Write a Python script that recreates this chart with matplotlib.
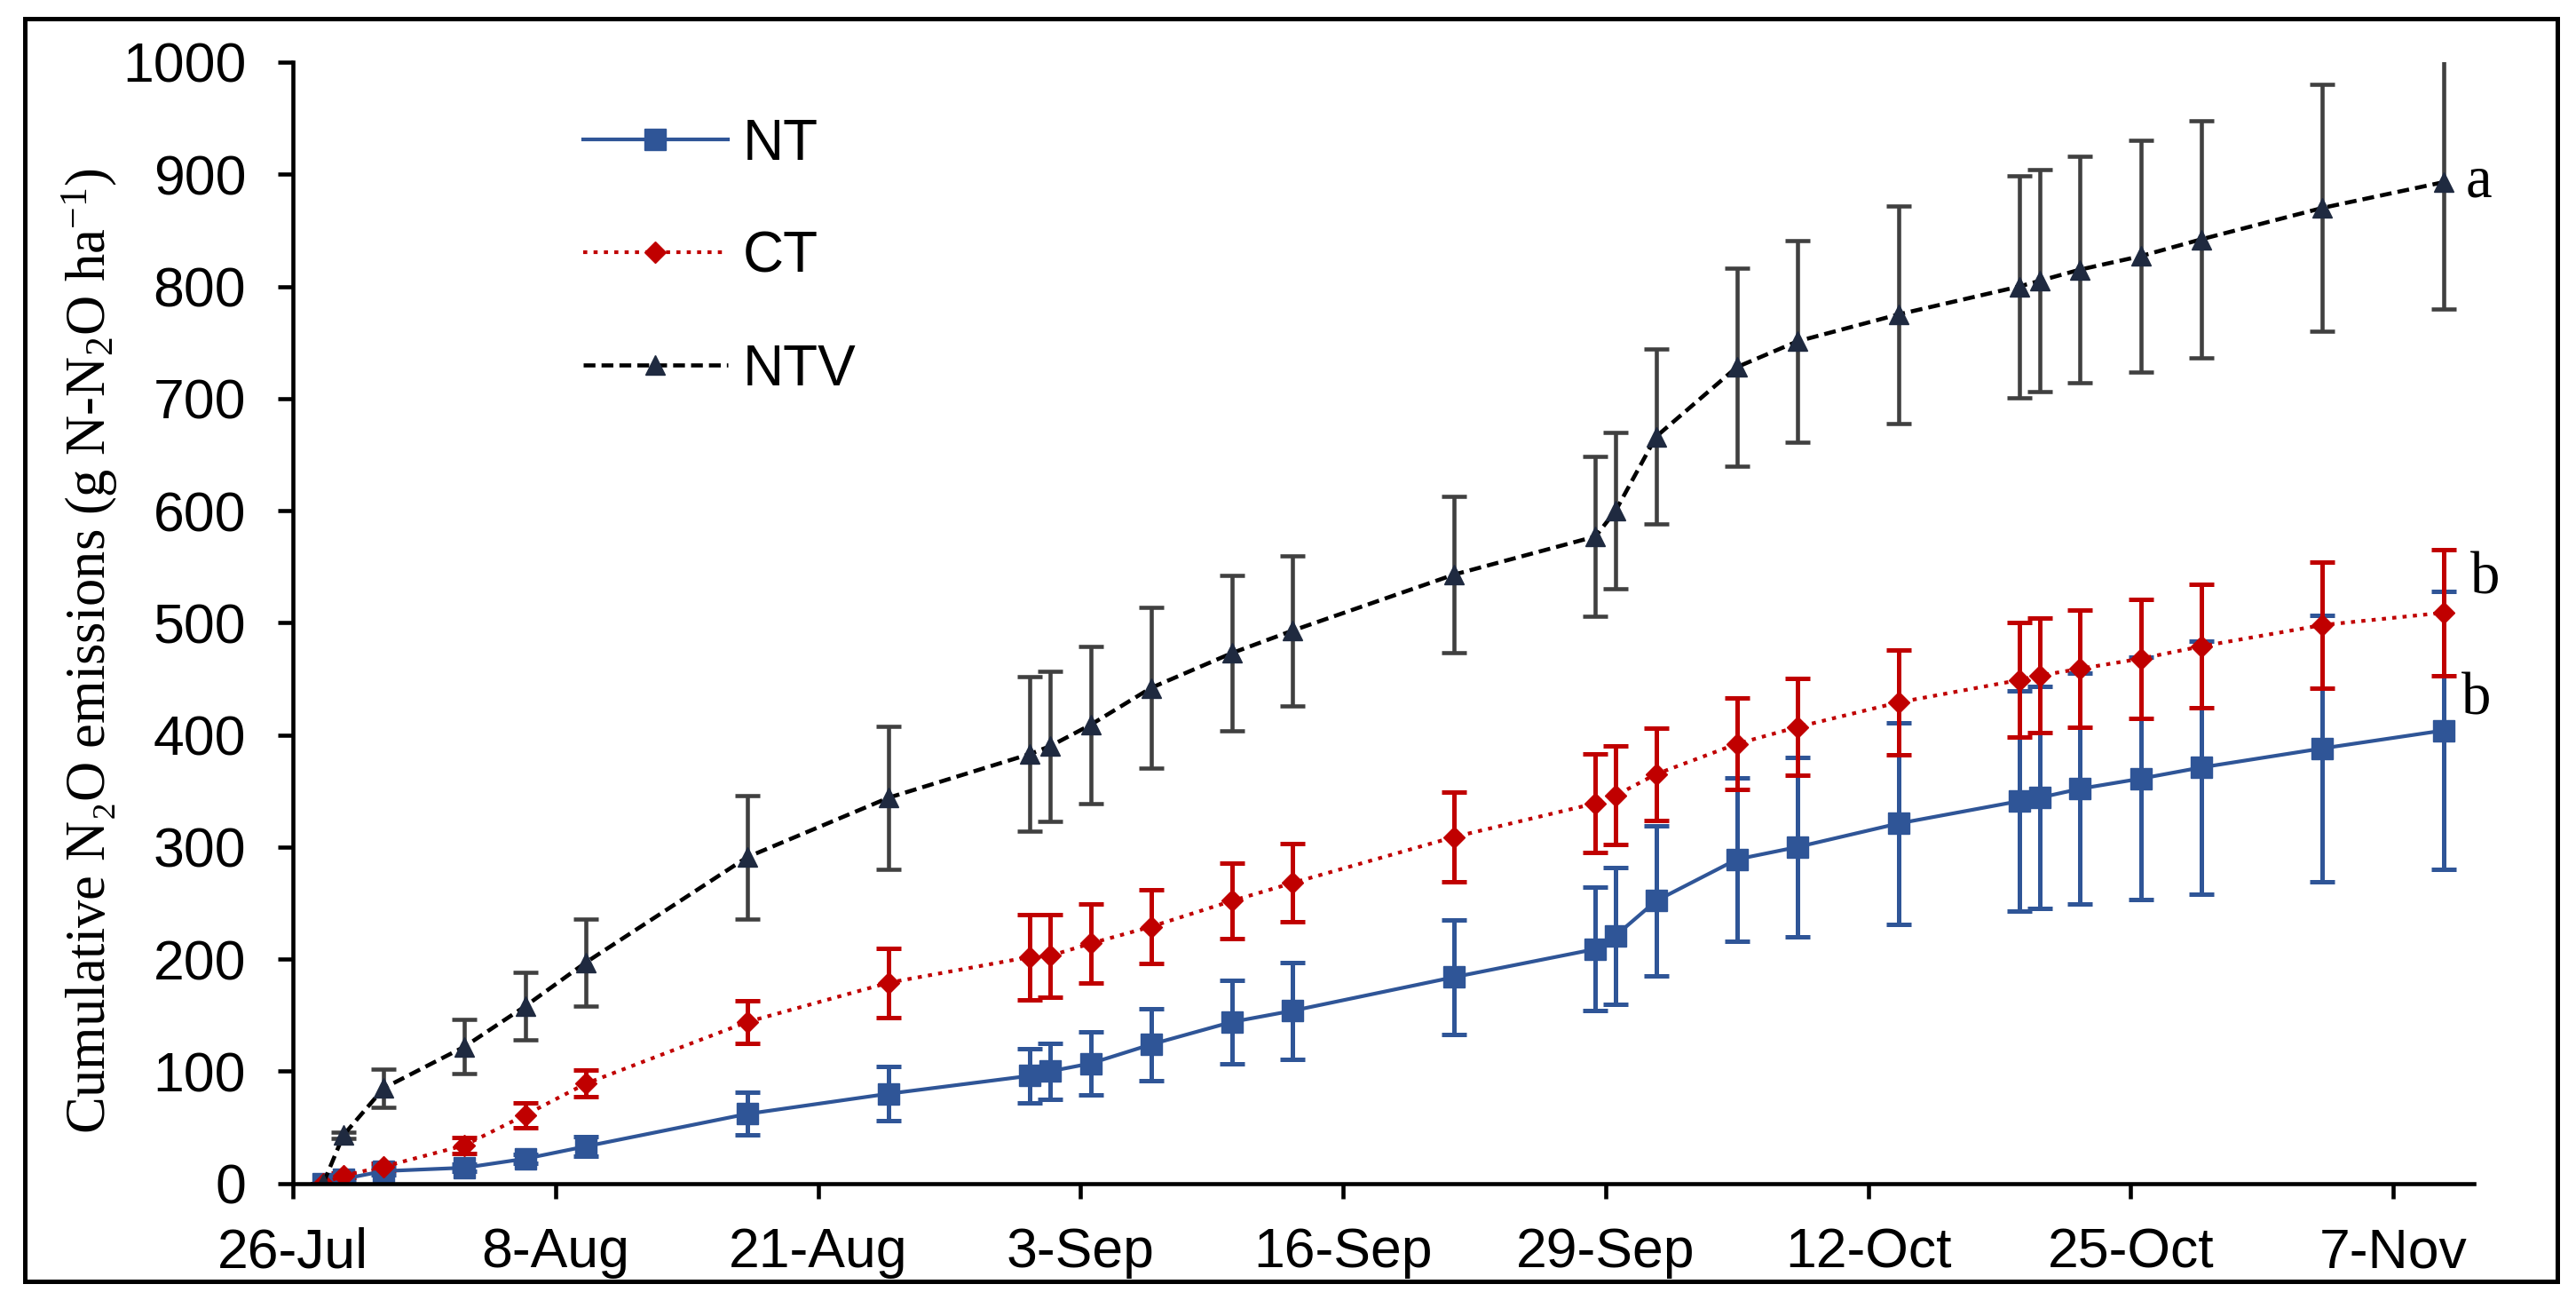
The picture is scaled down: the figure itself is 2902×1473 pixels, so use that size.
import matplotlib
matplotlib.use("Agg")
from matplotlib import pyplot as plt
from matplotlib.patches import Rectangle

plt.rcParams['font.family'] = ['Liberation Sans', 'DejaVu Sans']
plt.rcParams['mathtext.fontset'] = 'custom'
plt.rcParams['mathtext.rm'] = 'Liberation Serif'
plt.rcParams['mathtext.it'] = 'Liberation Serif:italic'

# days after 26-Jul
days = [1.5, 2.5, 4.5, 8.5, 11.5, 14.5, 22.5, 29.5, 36.5, 37.5, 39.5, 42.5, 46.5, 49.5,
        57.5, 64.5, 65.5, 67.5, 71.5, 74.5, 79.5, 85.5, 86.5, 88.5, 91.5, 94.5, 100.5, 106.5]

nt = [0, 4, 11, 14, 22, 33, 62, 80, 96, 100, 107, 124, 144, 154,
      184, 209, 221, 252, 289, 300, 321, 341, 344, 352, 361, 371, 388, 404]
nt_err = [0, 2, 3, 3, 4, 9, 19, 24, 24, 25, 28, 32, 37, 43,
          51, 55, 61, 67, 73, 80, 90, 98, 99, 103, 108, 113, 119, 124]

ct = [0, 7, 15, 34, 61, 89, 144, 179, 202, 203, 214, 229, 252, 268,
      309, 339, 346, 365, 392, 407, 429, 449, 453, 459, 468, 479, 498, 509]
ct_err = [0, 2, 3, 7, 11, 12, 19, 31, 38, 37, 35, 33, 34, 35,
          40, 44, 44, 41, 41, 43, 47, 51, 51, 52, 53, 55, 56, 56]

ntv = [0, 43, 85, 122, 158, 197, 291, 344, 383, 390, 409, 442, 473, 493,
       543, 577, 600, 666, 728, 751, 775, 800, 805, 815, 827, 842, 870, 893]
ntv_err = [0, 3, 17, 24, 30, 39, 55, 64, 69, 67, 70, 72, 69, 67,
           70, 71, 70, 78, 88, 90, 97, 99, 99, 101, 103, 106, 110, 113]

tick_days = [0, 13, 26, 39, 52, 65, 78, 91, 104]
tick_labels = ['26-Jul', '8-Aug', '21-Aug', '3-Sep', '16-Sep', '29-Sep', '12-Oct', '25-Oct', '7-Nov']
yticks = [0, 100, 200, 300, 400, 500, 600, 700, 800, 900, 1000]

letters = ['a', 'b', 'b']
letter_pos = [(107.6, 880), (107.8, 526), (107.4, 418)]

fig = plt.figure(figsize=(29.02, 14.73), dpi=100)
ax = fig.add_axes([0.11372, 0.09525, 0.84666, 0.85723])

blue = '#2F5597'
red = '#C00000'

c_nt = ax.errorbar(days, nt, yerr=nt_err, color=blue, ecolor=blue, lw=3, elinewidth=3.6,
                   capsize=10, capthick=3.6, marker='s', ms=17, mfc=blue, mec=blue, label='NT')
c_ct = ax.errorbar(days, ct, yerr=ct_err, color=red, ecolor=red, lw=3, ls=(0, (1.1, 1.7)),
                   elinewidth=3.6, capsize=10, capthick=3.6, marker='D', ms=12, mfc=red, mec=red,
                   label='CT')
c_ntv = ax.errorbar(days, ntv, yerr=ntv_err, color='black', ecolor='#404040', lw=3.3,
                    ls=(0, (2.9, 1.5)), elinewidth=3.3, capsize=10, capthick=3.3, marker='^',
                    ms=16, mfc='#1F2A40', mec='#1F2A40', label='NTV')

for t, (x, y) in zip(letters, letter_pos):
    ax.text(x, y, t, fontsize=48, family='Liberation Serif', ha='left', va='baseline')

ax.set_xlim(0, 108)
ax.set_ylim(0, 1000)
ax.set_xticks(tick_days)
ax.set_xticklabels(tick_labels)
ax.set_yticks(yticks)
ax.tick_params(axis='both', labelsize=45, length=12, width=3.3, direction='out')
ax.tick_params(axis='x', pad=23)
ax.tick_params(axis='y', pad=26)
for s in ['top', 'right']:
    ax.spines[s].set_visible(False)
for s in ['left', 'bottom']:
    ax.spines[s].set_linewidth(3.3)

ax.set_ylabel('Cumulative N\u2082O emissions (g N-N$_2$O ha$^{-1}$)',
              family=['Liberation Serif', 'DejaVu Serif'], fontsize=45)
ax.yaxis.set_label_coords(-0.0795, 0.475)

ax.legend([c_nt[0], c_ct[0], c_ntv[0]], ['NT', 'CT', 'NTV'], loc='upper left',
          bbox_to_anchor=(0.2263, 0.9100), bbox_transform=fig.transFigure,
          frameon=False, fontsize=46, handlelength=2.55, handletextpad=0.26,
          labelspacing=1.05, borderpad=0, borderaxespad=0)

fig.patches.append(Rectangle((0.00965, 0.02037), 0.98311, 0.96538, transform=fig.transFigure,
                             fill=False, lw=3.6, ec='black'))

fig.savefig('out.png', dpi=100)
